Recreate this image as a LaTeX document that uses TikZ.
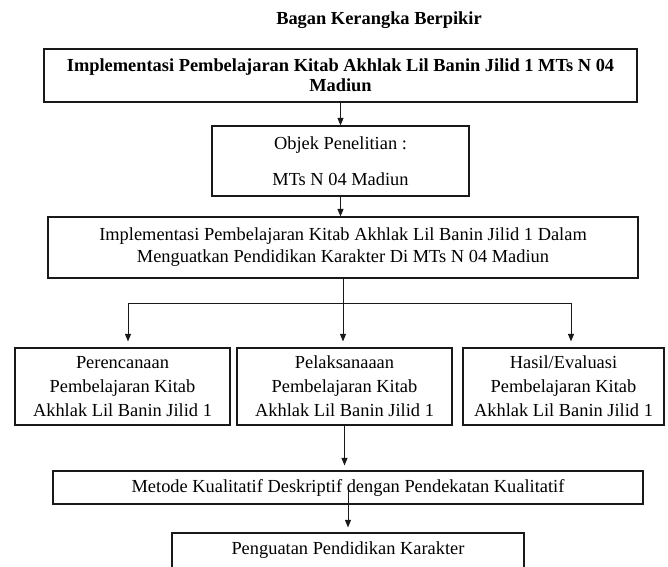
\documentclass[tikz,border=0pt]{standalone}
\usepackage{fontspec}
\setmainfont{Liberation Serif}
\usetikzlibrary{arrows.meta,positioning,calc}

\begin{document}
\begin{tikzpicture}[x=1pt, y=-1pt,
        box/.style={draw=black!90, line width=1.2pt, align=center, inner sep=0pt,
          font=\fontsize{18.4}{22}\selectfont},
        conn/.style={draw=black!90, line width=0.9pt},
        >={Triangle[length=7.5pt,width=6pt]}
      ]
        \useasboundingbox (0,0) rectangle (668,566);
        \clip (0,0) rectangle (668,566);
        \node[font=\bfseries\fontsize{18.4}{22}\selectfont] (title) at (379,20) {Bagan Kerangka Berpikir};
        \node[box, font=\bfseries\fontsize{18.4}{20}\selectfont, minimum width=593pt, minimum height=53pt]
          (implementasi) at (340.5,75.5) {Implementasi Pembelajaran Kitab Akhlak Lil Banin Jilid 1 MTs N 04\\ Madiun};
        \node[box, minimum width=257pt, minimum height=70pt] (objek) at (340.5,161)
          {Objek Penelitian :\\[14pt] MTs N 04 Madiun};
        \node[box, minimum width=590pt, minimum height=61pt] (implDalam) at (343,247.5)
          {Implementasi Pembelajaran Kitab Akhlak Lil Banin Jilid 1 Dalam\\ Menguatkan Pendidikan Karakter Di MTs N 04 Madiun};
        \node[box, font=\fontsize{18.4}{24}\selectfont, minimum width=215pt, minimum height=77pt] (perencanaan) at (122.5,386.5)
          {Perencanaan\\ Pembelajaran Kitab\\ Akhlak Lil Banin Jilid 1};
        \node[box, font=\fontsize{18.4}{24}\selectfont, minimum width=215pt, minimum height=77pt] (pelaksanaan) at (344.5,386.5)
          {Pelaksanaaan\\ Pembelajaran Kitab\\ Akhlak Lil Banin Jilid 1};
        \node[box, font=\fontsize{18.4}{24}\selectfont, minimum width=201pt, minimum height=77pt] (hasil) at (563.5,386.5)
          {Hasil/Evaluasi\\ Pembelajaran Kitab\\ Akhlak Lil Banin Jilid 1};
        \node[box, minimum width=590pt, minimum height=33pt] (metode) at (348,487.5)
          {Metode Kualitatif Deskriptif dengan Pendekatan Kualitatif};
        \node[box, minimum width=352pt, minimum height=35pt] (penguatan) at (348,550.5)
          {Penguatan Pendidikan Karakter};
        \coordinate (split) at (343,303);
        \coordinate (kiri) at (128,303);
        \coordinate (kanan) at (571,303);
        \draw[conn,->] (implementasi) -- (objek);
        \draw[conn,->] (objek.south) -- (objek.south |- implDalam.north);
        \draw[conn] (implDalam.south) -- (split);
        \draw[conn] (kiri) -- (kanan);
        \draw[conn,->,shorten >=6pt] (kiri) -- (kiri |- perencanaan.north);
        \draw[conn,->,shorten >=6pt] (split) -- (split |- pelaksanaan.north);
        \draw[conn,->,shorten >=6pt] (kanan) -- (kanan |- hasil.north);
        \draw[conn,->,shorten >=5pt] (pelaksanaan.south) -- (pelaksanaan.south |- metode.north);
        \draw[conn,->,shorten >=5pt] ($(metode.center)+(0,3)$) -- (metode.center |- penguatan.north);
      \end{tikzpicture}
\end{document}
